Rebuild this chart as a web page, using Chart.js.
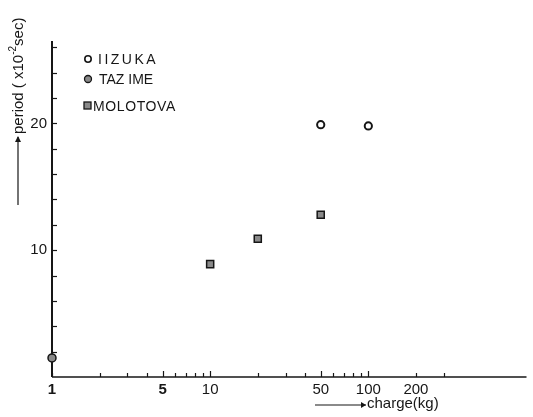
<!DOCTYPE html>
<html>
<head>
<meta charset="utf-8">
<script src="https://cdn.jsdelivr.net/npm/chart.js@4.4.0/dist/chart.umd.min.js"></script>
<style>
  html, body { margin: 0; padding: 0; background: #fff; }
</style>
</head>
<body>
<canvas id="chart" width="533" height="417"></canvas>
<script>
// valeurs
const iizukaX = [50, 100];
const iizukaY = [19.9, 19.8];
const tazimeX = [1];
const tazimeY = [1.5];
const molotovaX = [10, 20, 50];
const molotovaY = [8.9, 10.9, 12.8];

const xTicks = [1, 2, 3, 4, 5, 6, 7, 8, 9, 10, 20, 30, 40, 50, 60, 70, 80, 90, 100, 200, 300];
const xLabels = [1, 5, 10, 50, 100, 200];
const yTicks = [0, 2, 4, 6, 8, 10, 12, 14, 16, 18, 20, 22, 24, 26];
const yLabels = [10, 20];

const INK = "#161616";
const toPts = (xs, ys) => xs.map((x, i) => ({ x: x, y: ys[i] }));

// axes + petits traits vers l'interieur, titres, legende
const decor = {
  id: "decor",
  beforeDatasetsDraw(chart) {
    const { ctx, chartArea: a, scales: { x, y } } = chart;
    ctx.save();
    ctx.strokeStyle = INK;
    ctx.lineWidth = 2;
    ctx.beginPath();
    ctx.moveTo(a.left, a.top); ctx.lineTo(a.left, a.bottom);
    ctx.stroke();
    ctx.lineWidth = 1.5;
    ctx.beginPath();
    ctx.moveTo(a.left, a.bottom); ctx.lineTo(a.right, a.bottom);
    ctx.stroke();
    ctx.lineWidth = 1.2;
    xTicks.forEach(v => {
      const px = Math.round(x.getPixelForValue(v)) + 0.5;
      const len = (v === 5 || v === 10 || v === 50 || v === 100) ? 6 : 4;
      ctx.beginPath(); ctx.moveTo(px, a.bottom); ctx.lineTo(px, a.bottom - len); ctx.stroke();
    });
    yTicks.forEach(v => {
      if (v === 0) return;
      const py = Math.round(y.getPixelForValue(v)) + 0.5;
      ctx.beginPath(); ctx.moveTo(a.left, py); ctx.lineTo(a.left + 5, py); ctx.stroke();
    });
    ctx.restore();
  },
  afterDraw(chart) {
    const ctx = chart.ctx;
    ctx.save();
    ctx.fillStyle = INK;
    ctx.strokeStyle = INK;

    // titre axe x
    ctx.lineWidth = 1.2;
    ctx.beginPath(); ctx.moveTo(315, 405); ctx.lineTo(366, 405); ctx.stroke();
    ctx.beginPath(); ctx.moveTo(366, 405); ctx.lineTo(361, 402); ctx.lineTo(361, 408); ctx.closePath(); ctx.fill();
    ctx.font = "15px 'Liberation Sans'";
    ctx.textBaseline = "middle";
    ctx.fillText("charge(kg)", 367, 404);

    // titre axe y (tourne)
    ctx.save();
    ctx.translate(18, 205);
    ctx.rotate(-Math.PI / 2);
    ctx.beginPath(); ctx.moveTo(0, 0); ctx.lineTo(68, 0); ctx.stroke();
    ctx.beginPath(); ctx.moveTo(69, 0); ctx.lineTo(63, -3); ctx.lineTo(63, 3); ctx.closePath(); ctx.fill();
    ctx.font = "15px 'Liberation Sans'";
    ctx.textBaseline = "middle";
    let t = "period ( x10";
    ctx.fillText(t, 71, 1);
    let w = 71 + ctx.measureText(t).width;
    ctx.font = "10px 'Liberation Sans'";
    ctx.fillText("-2", w, -5);
    w += ctx.measureText("-2").width;
    ctx.font = "15px 'Liberation Sans'";
    ctx.fillText("sec)", w, 1);
    ctx.restore();

    // legende
    ctx.font = "14px 'Liberation Sans'";
    ctx.textBaseline = "middle";
    ctx.lineWidth = 1.6;
    ctx.beginPath(); ctx.arc(88, 59, 3.2, 0, Math.PI * 2);
    ctx.fillStyle = "#fff"; ctx.fill(); ctx.stroke();
    ctx.beginPath(); ctx.arc(88, 79, 3.5, 0, Math.PI * 2);
    ctx.fillStyle = "#8a8a8a"; ctx.fill(); ctx.lineWidth = 1.3; ctx.stroke();
    ctx.fillStyle = "#8a8a8a";
    ctx.fillRect(84, 102, 7, 7);
    ctx.strokeRect(84, 102, 7, 7);
    ctx.fillStyle = INK;
    ctx.letterSpacing = "2.5px";
    ctx.fillText("IIZUKA", 98, 60);
    ctx.letterSpacing = "0px";
    ctx.fillText("TAZ IME", 99, 80);
    ctx.letterSpacing = "0.6px";
    ctx.fillText("MOLOTOVA", 93, 107);
    ctx.restore();
  }
};

const ctx = document.getElementById("chart").getContext("2d");
const chart = new Chart(ctx, {
  type: "scatter",
  data: {
    datasets: [
      { label: "IIZUKA", data: toPts(iizukaX, iizukaY), pointStyle: "circle", pointRadius: 3.6,
        borderWidth: 2, borderColor: INK, backgroundColor: "#fff", clip: false },
      { label: "TAZ IME", data: toPts(tazimeX, tazimeY), pointStyle: "circle", pointRadius: 4,
        borderWidth: 1.5, borderColor: INK, backgroundColor: "#8a8a8a", clip: false },
      { label: "MOLOTOVA", data: toPts(molotovaX, molotovaY), pointStyle: "rect", pointRadius: 5,
        borderWidth: 1.5, borderColor: INK, backgroundColor: "#8a8a8a", clip: false }
    ]
  },
  options: {
    responsive: false,
    animation: false,
    events: [],
    layout: { padding: { top: 41, right: 6, left: 0, bottom: 0 } },
    plugins: { legend: { display: false }, tooltip: { enabled: false } },
    scales: {
      x: {
        type: "logarithmic", min: 1, max: 1000,
        grid: { display: false, drawTicks: false },
        border: { display: false },
        afterBuildTicks: s => { s.ticks = xTicks.map(v => ({ value: v })); },
        afterFit: s => { s.height = 40; },
        ticks: {
          autoSkip: false, maxRotation: 0, padding: 4, color: INK,
          font: c => ({ family: "'Liberation Sans'", size: 15, weight: (c.tick && (c.tick.value === 1 || c.tick.value === 5)) ? "bold" : "normal" }),
          callback: v => xLabels.includes(v) ? String(v) : ""
        }
      },
      y: {
        min: 0, max: 26.5,
        grid: { display: false, drawTicks: false },
        border: { display: false },
        afterBuildTicks: s => { s.ticks = yTicks.map(v => ({ value: v })); },
        afterFit: s => { s.width = 52; },
        ticks: {
          autoSkip: false, padding: 5, color: INK,
          font: { family: "'Liberation Sans'", size: 15 },
          callback: v => yLabels.includes(v) ? String(v) : ""
        }
      }
    }
  },
  plugins: [decor]
});
</script>
</body>
</html>
